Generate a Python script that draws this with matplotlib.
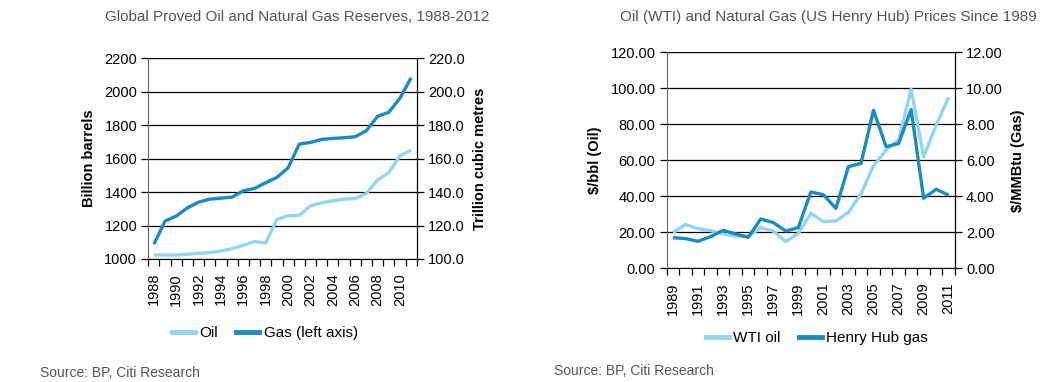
import numpy as np
import matplotlib as mpl
import matplotlib.pyplot as plt
from matplotlib.lines import Line2D

mpl.rcParams.update({
    "font.family": ["Liberation Sans Narrow", "Liberation Sans", "DejaVu Sans"],
    "font.size": 10,
})

LIGHT = "#93d5ef"
DARK = "#1b8cbf"
GRID = "#000000"
TEXT_GREY = "#555555"

# Left chart: reserves
res_years = list(range(1988, 2012))
oil_bn_bbl = [1024, 1024, 1024, 1028, 1034, 1038, 1048, 1062, 1082, 1104, 1096, 1237,
              1259, 1261, 1318, 1336, 1348, 1358, 1362, 1392, 1472, 1516, 1617, 1651]
gas_tcm = [108.8, 122.7, 125.7, 130.6, 134.0, 135.8, 136.4, 137.0, 140.8, 142.2, 145.6, 148.8,
           154.5, 168.7, 169.7, 171.5, 172.1, 172.5, 173.1, 176.7, 185.3, 187.7, 196.1, 208.4]

# Right chart: prices
px_years = list(range(1989, 2012))
wti_oil = [19.8, 24.4, 22.0, 20.9, 19.1, 18.0, 17.6, 22.6, 20.7, 14.8, 19.4, 30.6,
           25.9, 26.3, 31.1, 41.3, 56.9, 65.7, 71.3, 99.5, 62.0, 79.6, 95.0]
henry_hub = [1.70, 1.65, 1.50, 1.76, 2.11, 1.91, 1.72, 2.74, 2.54, 2.07, 2.26, 4.24,
             4.09, 3.33, 5.65, 5.83, 8.78, 6.76, 6.93, 8.82, 3.89, 4.39, 4.06]

W, H = 1058, 382
fig = plt.figure(figsize=(W / 100, H / 100), dpi=100)
BOLD_FAMILY = ["Liberation Sans", "DejaVu Sans"]


def frac_axes(left, right, top, bottom):
    return fig.add_axes([left / W, 1 - bottom / H, (right - left) / W, (bottom - top) / H])


def style_category_axes(ax, ax2, years, label_start):
    n = len(years)
    ax.set_xlim(-0.5, n - 0.5)
    idx = list(range(label_start, n, 2))
    ax.set_xticks(idx)
    ax.set_xticklabels([str(years[i]) for i in idx], rotation=90, fontsize=10.5)
    ax.set_xticks(np.arange(-0.5, n, 1.0), minor=True)
    ax.tick_params(axis="x", which="major", length=0, pad=10)
    ax.tick_params(axis="x", which="minor", length=5, width=0.9, direction="out")
    ax.grid(axis="y", color=GRID, linewidth=0.9)
    ax.set_axisbelow(True)
    ax.spines["top"].set_visible(False)
    ax.spines["left"].set_color("#666666")
    ax.spines["bottom"].set_color("#000000")
    ax.spines["right"].set_color("#000000")
    for a in (ax, ax2):
        a.tick_params(axis="y", length=5, width=0.9, labelsize=10.5, pad=3)
    ax2.spines["top"].set_visible(False)
    ax2.spines["right"].set_color("#000000")
    ax2.spines["left"].set_visible(False)
    ax2.spines["bottom"].set_visible(False)


def add_legend(labels, cx, cy):
    handles = [Line2D([], [], color=LIGHT, lw=3.5), Line2D([], [], color=DARK, lw=3.5)]
    fig.legend(handles, labels, loc="center", bbox_to_anchor=(cx / W, 1 - cy / H),
               ncol=2, frameon=False, fontsize=11, handlelength=1.5, handletextpad=0.3,
               columnspacing=1.2)


# ---- left chart
ax = frac_axes(148.3, 416.7, 58.3, 259)
ax2 = ax.twinx()
x = np.arange(len(res_years))
ax.plot(x, oil_bn_bbl, color=LIGHT, lw=2.4, solid_capstyle="butt")
ax2.plot(x, gas_tcm, color=DARK, lw=2.4, solid_capstyle="butt")
ax.set_ylim(1000, 2200)
ax.set_yticks(range(1000, 2201, 200))
ax2.set_ylim(100, 220)
ax2.set_yticks(np.arange(100, 221, 20))
ax2.set_yticklabels([f"{v:.1f}" for v in np.arange(100, 221, 20)])
style_category_axes(ax, ax2, res_years, 0)
ax.axhline(2200, color="#888888", lw=0.9, zorder=0)
ax.set_ylabel("Billion barrels", fontweight="bold", fontsize=10.5, family=BOLD_FAMILY, labelpad=6)
ax2.set_ylabel("Trillion cubic metres", fontweight="bold", fontsize=10.5, family=BOLD_FAMILY, labelpad=6)
fig.text(297 / W, 1 - 17 / H, "Global Proved Oil and Natural Gas Reserves, 1988-2012",
         ha="center", va="center", fontsize=11, color=TEXT_GREY)
add_legend(["Oil", "Gas (left axis)"], 265, 333)
fig.text(40 / W, 1 - 373 / H, "Source: BP, Citi Research", ha="left", va="center", fontsize=10, color=TEXT_GREY)

# ---- right chart
bx = frac_axes(666.7, 955, 52.3, 268.3)
bx2 = bx.twinx()
x = np.arange(len(px_years))
bx.plot(x, wti_oil, color=LIGHT, lw=2.4, solid_capstyle="butt")
bx2.plot(x, henry_hub, color=DARK, lw=2.4, solid_capstyle="butt")
bx.set_ylim(0, 120)
bx.set_yticks(range(0, 121, 20))
bx.set_yticklabels([f"{v:.2f}" for v in range(0, 121, 20)])
bx2.set_ylim(0, 12)
bx2.set_yticks(range(0, 13, 2))
bx2.set_yticklabels([f"{v:.2f}" for v in range(0, 13, 2)])
style_category_axes(bx, bx2, px_years, 0)
bx.axhline(120, color="#888888", lw=0.9, zorder=0)
bx.set_ylabel("$/bbl (Oil)", fontweight="bold", fontsize=10.5, family=BOLD_FAMILY, labelpad=6)
bx2.set_ylabel("$/MMBtu (Gas)", fontweight="bold", fontsize=10.5, family=BOLD_FAMILY, labelpad=6)
fig.text(828 / W, 1 - 17 / H, "Oil (WTI) and Natural Gas (US Henry Hub) Prices Since 1989",
         ha="center", va="center", fontsize=11, color=TEXT_GREY)
add_legend(["WTI oil", "Henry Hub gas"], 817, 338)
fig.text(554 / W, 1 - 371 / H, "Source: BP, Citi Research", ha="left", va="center", fontsize=10, color=TEXT_GREY)

fig.savefig("out.png", dpi=100)
